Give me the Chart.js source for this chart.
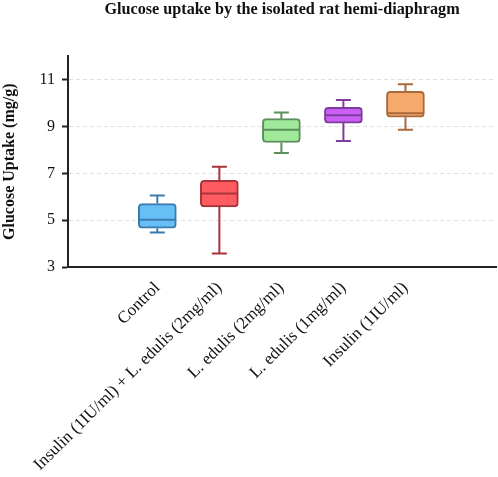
<!DOCTYPE html>
<html>
<head>
<meta charset="utf-8">
<script src="https://cdn.jsdelivr.net/npm/chart.js@4"></script>
<style>
  html, body { margin: 0; padding: 0; background: #fff; }
  #wrap { width: 498px; height: 477px; }
</style>
</head>
<body>
<div id="wrap"><canvas id="myChart"></canvas></div>
<script>
const FONT = '"Liberation Serif", "Times New Roman", serif';

const groups = [
  'Control',
  'Insulin (1IU/ml) + L. edulis (2mg/ml)',
  'L. edulis (2mg/ml)',
  'L. edulis (1mg/ml)',
  'Insulin (1IU/ml)'
];

// box plot stats
const whiskerLow = [4.47, 3.58, 7.87, 8.39, 8.87];
const q1 = [4.66, 5.57, 8.32, 9.15, 9.40];
const median = [5.02, 6.14, 8.87, 9.49, 9.57];
const q3 = [5.71, 6.70, 9.34, 9.83, 10.51];
const whiskerHigh = [6.06, 7.28, 9.60, 10.14, 10.81];

const yTicks = [3, 5, 7, 9, 11];

const fills = ['#66bff5', '#ff5c62', '#a0e89a', '#cc5ef5', '#f7a86b'];
const lines = ['#3b7bad', '#a8333a', '#5b8f5b', '#7d3d9c', '#a86a3c'];

// whiskers + median line, drawn from the scales
const boxExtras = {
  id: 'boxExtras',
  afterDatasetsDraw(chart) {
    const ctx = chart.ctx;
    const xs = chart.scales.x;
    const ys = chart.scales.y;
    const bars = chart.getDatasetMeta(0).data;
    ctx.save();
    ctx.lineWidth = 2;
    for (let i = 0; i < groups.length; i++) {
      const x = xs.getPixelForValue(i + 1);
      const half = bars[i].width / 2;
      const cap = 7.5;
      ctx.strokeStyle = lines[i];
      ctx.beginPath();
      // upper whisker
      ctx.moveTo(x, ys.getPixelForValue(q3[i]));
      ctx.lineTo(x, ys.getPixelForValue(whiskerHigh[i]));
      ctx.moveTo(x - cap, ys.getPixelForValue(whiskerHigh[i]));
      ctx.lineTo(x + cap, ys.getPixelForValue(whiskerHigh[i]));
      // lower whisker
      ctx.moveTo(x, ys.getPixelForValue(q1[i]));
      ctx.lineTo(x, ys.getPixelForValue(whiskerLow[i]));
      ctx.moveTo(x - cap, ys.getPixelForValue(whiskerLow[i]));
      ctx.lineTo(x + cap, ys.getPixelForValue(whiskerLow[i]));
      // median
      ctx.moveTo(x - half + 1, ys.getPixelForValue(median[i]));
      ctx.lineTo(x + half - 1, ys.getPixelForValue(median[i]));
      ctx.stroke();
    }
    ctx.restore();
  }
};

const ctx = document.querySelector('#myChart');

new Chart(ctx, {
  type: 'bar',
  data: {
    datasets: [{
      data: groups.map((g, i) => ({ x: i + 1, y: [q1[i], q3[i]] })),
      backgroundColor: fills,
      borderColor: lines,
      borderWidth: 2,
      borderRadius: 4,
      borderSkipped: false,
      barThickness: 38
    }]
  },
  plugins: [boxExtras],
  options: {
    responsive: true,
    maintainAspectRatio: false,
    animation: false,
    layout: { padding: { left: 0, right: 2, top: 0, bottom: 0 } },
    plugins: {
      legend: { display: false },
      tooltip: { enabled: false },
      title: {
        display: true,
        fullSize: false,
        text: 'Glucose uptake by the isolated rat hemi-diaphragm',
        color: '#111',
        font: { family: FONT, size: 16.2, weight: 'bold' },
        padding: { top: 0, bottom: 37 }
      }
    },
    scales: {
      x: {
        type: 'linear',
        offset: false,
        min: -0.44,
        max: 6.46,
        grid: { display: false },
        border: { display: true, color: '#222', width: 2 },
        afterBuildTicks: (axis) => {
          axis.ticks = groups.map((g, i) => ({ value: i + 1 }));
        },
        afterFit: (axis) => { axis.height = 210; },
        ticks: {
          autoSkip: false,
          minRotation: 45,
          maxRotation: 45,
          padding: 3,
          color: '#111',
          font: { family: FONT, size: 17 },
          callback: (v) => groups[v - 1]
        }
      },
      y: {
        min: 3,
        max: 12,
        afterBuildTicks: (axis) => {
          axis.ticks = yTicks.map(v => ({ value: v }));
        },
        afterFit: (axis) => { axis.width = 68; },
        grid: {
          color: '#e0e0e0',
          lineWidth: 1,
          tickColor: '#222',
          tickLength: 6,
          tickWidth: 2
        },
        border: { display: true, color: '#222', width: 2, dash: [4, 3] },
        ticks: {
          padding: 7,
          color: '#111',
          font: { family: FONT, size: 16 }
        },
        title: {
          display: true,
          text: 'Glucose Uptake (mg/g)',
          color: '#111',
          font: { family: FONT, size: 16, weight: 'bold' },
          padding: { top: 0, bottom: 0 }
        }
      }
    }
  }
});
</script>
</body>
</html>
